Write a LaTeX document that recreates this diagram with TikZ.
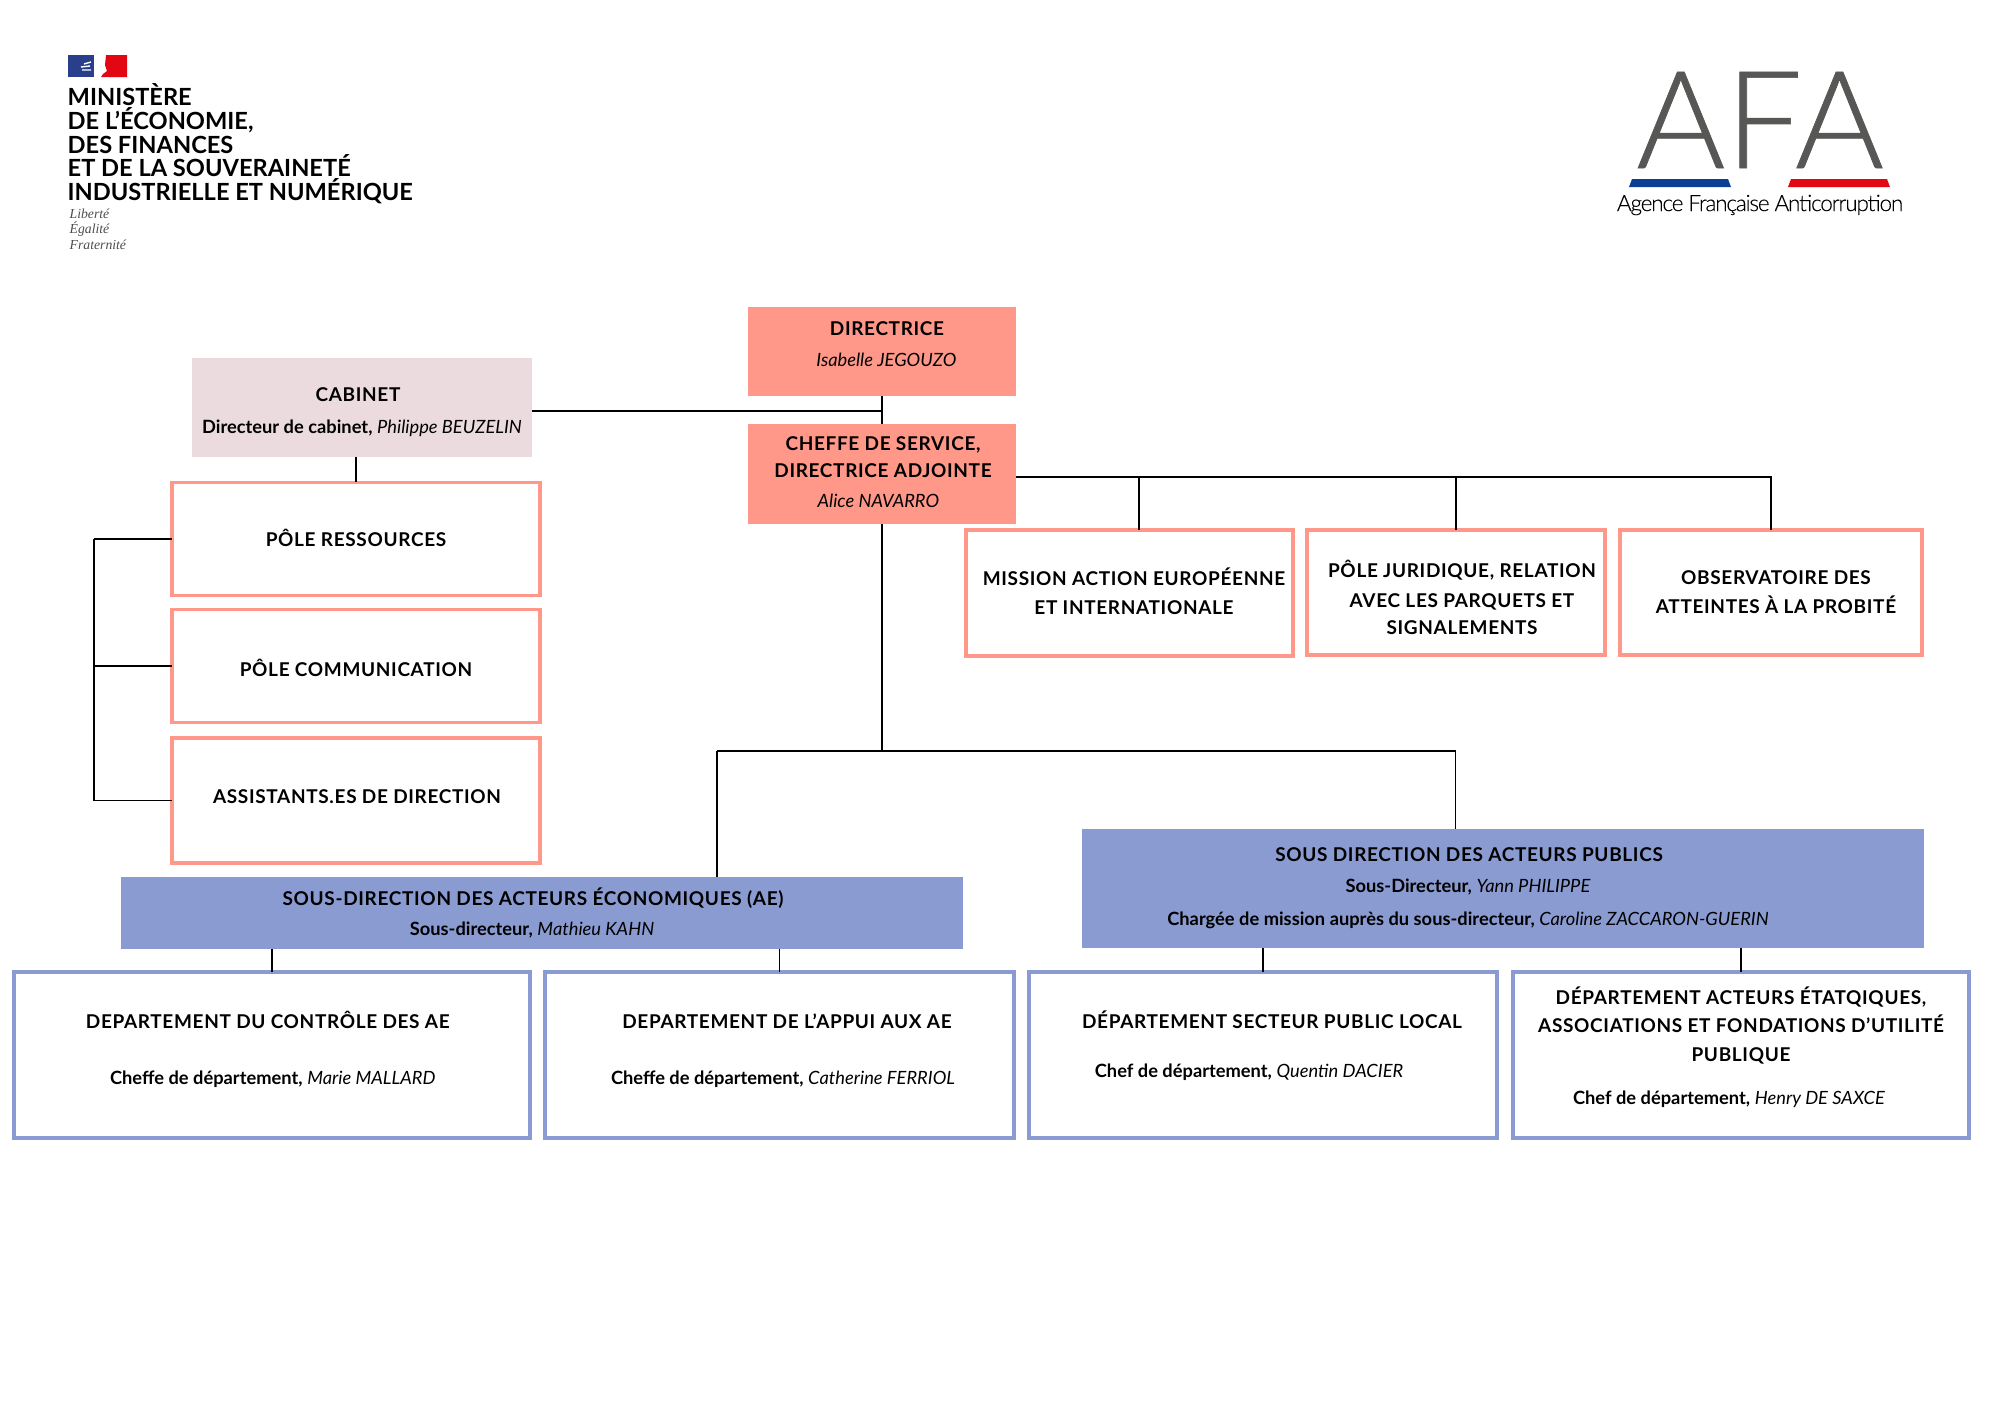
\documentclass[tikz,border=0pt]{standalone}
\usepackage{fontspec}
\setmainfont{Lato}
\newfontfamily\lettres[LetterSpace=3.5]{Lato}
\newfontfamily\afafont[FakeBold=0.5]{Lato Light}
\newfontfamily\afaserre[LetterSpace=-5.2,FakeBold=0.2]{Lato Light}
\newfontfamily\devise{Liberation Serif}
\newlength{\pix}
\setlength{\pix}{0.01cm}
% one line of text, placed from the centre of its box
\newcommand{\ligne}[3]{\kern#1\pix\raisebox{\dimexpr-#2\pix-.36em-0.2\pix\relax}[0pt][0pt]{\makebox[0pt][c]{#3}}\kern-#1\pix}
\newcommand{\titre}[3]{{\lettres\bfseries\fontsize{5.4}{6}\selectfont\ligne{#1}{#2}{#3}}\ignorespaces}
\newcommand{\sous}[4]{{\fontsize{5.2}{6}\selectfont\ligne{#1}{#2}{\textbf{#3}\ \textit{#4}}}\ignorespaces}
\definecolor{saumon}{HTML}{FF9889}
\definecolor{rosepale}{HTML}{EBDBDF}
\definecolor{bleuboite}{HTML}{8A9BD1}
\definecolor{grisafa}{HTML}{575756}
\definecolor{bleulogo}{HTML}{0B3F94}
\definecolor{rougelogo}{HTML}{E30613}
\definecolor{bleuflag}{HTML}{2A3F8C}
\tikzset{
  boite/.style={shape=rectangle,inner sep=0pt,outer sep=0pt},
  pleinsaumon/.style={boite,fill=saumon},
  pleinrose/.style={boite,fill=rosepale},
  pleinbleu/.style={boite,fill=bleuboite},
  cadresaumon/.style={boite,draw=saumon,line width=1.1pt},
  cadrebleu/.style={boite,draw=bleuboite,line width=1.1pt},
  lien/.style={-,draw=black,line width=0.5pt},
}

\begin{document}
\begin{tikzpicture}[x=0.01cm,y=-0.01cm]
\useasboundingbox (0,0) rectangle (2000,1414);

% logos
\fill[bleuflag] (68,55) rectangle (94,77);
\draw[white,line width=0.4pt] (81,67) -- (90,66) (82,70) -- (91,70) (84,64) -- (91,62);
\fill[rougelogo] (106,55) -- (127,55) -- (127,77) -- (101,77) -- (103,74) -- (107,71) -- (105,65) -- cycle;
\node[anchor=north west,inner sep=0pt,align=left,font={\bfseries\fontsize{6.72}{6.8}\selectfont}] (ministere) at (67,82.5)
  {MINISTÈRE\\DE L'ÉCONOMIE,\\DES FINANCES\\ET DE LA SOUVERAINETÉ\\INDUSTRIELLE ET NUMÉRIQUE};
\node[anchor=north west,inner sep=0pt,align=left,text=black!70,font={\devise\itshape\fontsize{3.9}{4.4}\selectfont}] (devise) at (69,208)
  {Liberté\\Égalité\\Fraternité};
\node[inner sep=0pt,text=grisafa,font={\afafont\fontsize{38.7}{40}\selectfont}] (afa) at (1760,120) {AFA};
\fill[bleulogo] (1632,179) -- (1728,179) -- (1731,187) -- (1629,187) -- cycle;
\fill[rougelogo] (1791,179) -- (1887,179) -- (1890,187) -- (1788,187) -- cycle;
\node[inner sep=0pt,font={\afaserre\fontsize{6.4}{7}\selectfont}] (agence) at (1760,205) {Agence Française Anticorruption};

% direction
\node[pleinsaumon,minimum width=2.68cm,minimum height=0.89cm] (directrice) at (882,351.5)
  {\titre{5}{-23.5}{DIRECTRICE}\sous{2}{8.5}{}{Isabelle JEGOUZO}};
\node[pleinsaumon,minimum width=2.68cm,minimum height=1.00cm] (cheffe) at (882,474)
  {\titre{1}{-31}{CHEFFE DE SERVICE,}\titre{1}{-3.4}{DIRECTRICE ADJOINTE}\sous{-6}{27}{}{Alice NAVARRO}};
\node[pleinrose,minimum width=3.40cm,minimum height=0.98cm] (cabinet) at (362,407.5)
  {\titre{-4}{-13}{CABINET}\sous{0}{19.5}{Directeur de cabinet,}{Philippe BEUZELIN}};

% poles du cabinet
\node[cadresaumon,minimum width=3.68cm,minimum height=1.13cm] (ressources) at (356,539) {\titre{0}{0}{PÔLE RESSOURCES}};
\node[cadresaumon,minimum width=3.68cm,minimum height=1.13cm] (communication) at (356,666) {\titre{0}{3}{PÔLE COMMUNICATION}};
\node[cadresaumon,minimum width=3.68cm,minimum height=1.25cm] (assistants) at (356,800.5) {\titre{1}{-4}{ASSISTANTS.ES DE DIRECTION}};

% missions
\node[cadresaumon,minimum width=3.27cm,minimum height=1.26cm] (mission) at (1129.5,593)
  {\titre{4.5}{-15}{MISSION ACTION EUROPÉENNE}\titre{4.5}{14}{ET INTERNATIONALE}};
\node[cadresaumon,minimum width=2.98cm,minimum height=1.25cm] (juridique) at (1456,592.5)
  {\titre{6}{-22}{PÔLE JURIDIQUE, RELATION}\titre{6}{7.5}{AVEC LES PARQUETS ET}\titre{6}{35}{SIGNALEMENTS}};
\node[cadresaumon,minimum width=3.02cm,minimum height=1.25cm] (observatoire) at (1771,592.5)
  {\titre{5}{-15}{OBSERVATOIRE DES}\titre{5}{13.5}{ATTEINTES À LA PROBITÉ}};

% sous-directions
\node[pleinbleu,minimum width=8.415cm,minimum height=0.72cm] (sdae) at (542,912.5)
  {\titre{-9}{-14}{SOUS-DIRECTION DES ACTEURS ÉCONOMIQUES (AE)}\sous{-10}{16}{Sous-directeur,}{Mathieu KAHN}};
\node[pleinbleu,minimum width=8.415cm,minimum height=1.19cm] (sdap) at (1503,888.5)
  {\titre{-34}{-34}{SOUS DIRECTION DES ACTEURS PUBLICS}\sous{-35}{-3}{Sous-Directeur,}{Yann PHILIPPE}\sous{-35}{30}{Chargée de mission auprès du sous-directeur,}{Caroline ZACCARON-GUERIN}};

% departements
\node[cadrebleu,minimum width=5.155cm,minimum height=1.66cm] (controle) at (271.75,1055)
  {\titre{-4}{-34}{DEPARTEMENT DU CONTRÔLE DES AE}\sous{1}{22.7}{Cheffe de département,}{Marie MALLARD}};
\node[cadrebleu,minimum width=4.69cm,minimum height=1.66cm] (appui) at (779.5,1055)
  {\titre{7.5}{-34}{DEPARTEMENT DE L’APPUI AUX AE}\sous{3.5}{23}{Cheffe de département,}{Catherine FERRIOL}};
\node[cadrebleu,minimum width=4.68cm,minimum height=1.66cm] (local) at (1263,1055)
  {\titre{9}{-34}{DÉPARTEMENT SECTEUR PUBLIC LOCAL}\sous{-14}{16}{Chef de département,}{Quentin DACIER}};
\node[cadrebleu,minimum width=4.56cm,minimum height=1.66cm] (etat) at (1741,1055)
  {\titre{0}{-58}{DÉPARTEMENT ACTEURS ÉTATQIQUES,}\titre{0}{-30}{ASSOCIATIONS ET FONDATIONS D’UTILITÉ}\titre{0}{-1}{PUBLIQUE}\sous{-12}{43}{Chef de département,}{Henry DE SAXCE}};

\coordinate (jonction) at (882,411);
\coordinate (barre) at (94,540);
\coordinate (service) at (1772,477);
\coordinate (coude) at (882,751);
\coordinate (coudeae) at (717,751);
\coordinate (coudeap) at (1455.5,751);
\coordinate (chutemission) at (1139,477);

\path [lien] (directrice) edge (cheffe);
\path [lien] (cabinet.east |- jonction) edge (jonction);
\path [lien] (cabinet.south -| ressources.north) edge (ressources.north);
\path [lien] (ressources.west) edge (barre |- ressources.west);
\path [lien] (communication.west) edge (barre |- communication.west);
\path [lien] (assistants.west) edge (barre |- assistants.west);
\path [lien] (barre |- ressources.west) edge (barre |- assistants.west);
\path [lien] (cheffe.east |- service) edge (service);
\path [lien] (chutemission) edge (chutemission |- mission.north);
\path [lien] (juridique.north |- service) edge (juridique.north);
\path [lien] (observatoire.north |- service) edge (observatoire.north);
\path [lien] (cheffe.south) edge (coude);
\path [lien] (coudeae) edge (coudeap);
\path [lien] (coudeae) edge (coudeae |- sdae.north);
\path [lien] (coudeap) edge (coudeap |- sdap.north);
\path [lien] (controle.north |- sdae.south) edge (controle.north);
\path [lien] (appui.north |- sdae.south) edge (appui.north);
\path [lien] (local.north |- sdap.south) edge (local.north);
\path [lien] (etat.north |- sdap.south) edge (etat.north);
\end{tikzpicture}
\end{document}
